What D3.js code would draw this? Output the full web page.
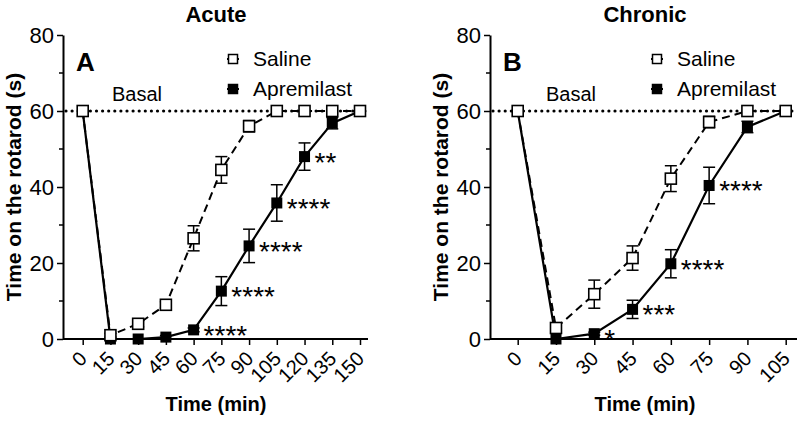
<!DOCTYPE html>
<html>
<head>
<meta charset="utf-8">
<script src="https://cdn.jsdelivr.net/npm/d3@7/dist/d3.min.js"></script>
<style>
  body { margin: 0; background: #fff; }
  svg { font-family: Arial, "Liberation Sans", sans-serif; }
</style>
</head>
<body>
<svg id="chart" width="800" height="422"></svg>
<script>
// Acute
const acuteTimes = ["0", "15", "30", "45", "60", "75", "90", "105", "120", "135", "150"];
const acuteSaline = [60, 1, 4, 9, 26.5, 44.5, 56, 60, 60, 60, 60];
const acuteSalineErr = [0, 0.5, 0.8, 0.8, 3.3, 3.5, 1.5, 0, 0, 0, 0];
const acuteApremilast = [60, 0, 0, 0.5, 2.4, 12.6, 24.5, 35.8, 48, 56.8, 60];
const acuteApremilastErr = [0, 0, 0, 0.4, 0.5, 3.8, 4.4, 4.8, 3.6, 1.5, 0];
const acuteStars = ["", "", "", "", "****", "****", "****", "****", "**", "", ""];

// Chronic
const chronicTimes = ["0", "15", "30", "45", "60", "75", "90", "105"];
const chronicSaline = [60, 2.9, 11.8, 21.3, 42.2, 57.1, 60, 60];
const chronicSalineErr = [0, 1, 3.7, 3.2, 3.4, 1.5, 0, 0];
const chronicApremilast = [60, 0, 1.4, 7.8, 19.8, 40.4, 55.8, 60];
const chronicApremilastErr = [0, 0, 0.4, 2.4, 3.7, 4.8, 1.5, 0];
const chronicStars = ["", "", "*", "***", "****", "****", "", ""];

const yTicks = [0, 20, 40, 60, 80];
const yMinorTicks = [10, 30, 50, 70];
const basal = 60;

const svg = d3.select("#chart");

function drawPanel(opt) {
  const g = svg.append("g");
  const y = d3.scaleLinear().domain([0, 80]).range([339, 35]);
  const x = d3.scalePoint().domain(opt.times).range([opt.firstX, opt.lastX]);

  // title + panel letter
  g.append("text").attr("x", opt.titleX).attr("y", 22)
    .attr("text-anchor", "middle").attr("font-weight", "bold").attr("font-size", 22)
    .text(opt.title);
  g.append("text").attr("x", opt.axisX + 13).attr("y", 71)
    .attr("font-weight", "bold").attr("font-size", 26)
    .text(opt.letter);

  // y axis
  const yAxis = g.append("g").attr("transform", `translate(${opt.axisX},0)`)
    .call(d3.axisLeft(y).tickValues(yTicks).tickSize(6).tickPadding(3).tickSizeOuter(0));
  yAxis.select(".domain").attr("stroke-width", 2);
  yAxis.selectAll(".tick line").attr("stroke-width", 1.5);
  yAxis.selectAll(".tick text").attr("font-size", 22).attr("font-family", null);
  yAxis.selectAll(".minor").data(yMinorTicks).join("line")
    .attr("x1", -4).attr("x2", 0)
    .attr("y1", d => y(d)).attr("y2", d => y(d))
    .attr("stroke", "#000").attr("stroke-width", 1.5);

  // x axis
  const xAxis = g.append("g").attr("transform", `translate(0,${y(0)})`)
    .call(d3.axisBottom(x).tickSize(6).tickSizeOuter(0));
  xAxis.select(".domain").remove();
  xAxis.append("line").attr("x1", opt.axisX).attr("x2", opt.axisEnd)
    .attr("stroke", "#000").attr("stroke-width", 2);
  xAxis.selectAll(".tick line").attr("stroke-width", 1.5);
  xAxis.selectAll(".tick text")
    .attr("font-size", 20).attr("font-family", null)
    .attr("text-anchor", "end")
    .attr("y", 0).attr("dy", "0.35em")
    .attr("transform", "translate(0,16) rotate(-45)");

  // axis titles
  g.append("text")
    .attr("transform", `translate(${opt.axisX - 42},${y(40)}) rotate(-90)`)
    .attr("text-anchor", "middle").attr("font-weight", "bold").attr("font-size", 21)
    .text("Time on the rotarod (s)");
  g.append("text").attr("x", opt.titleX).attr("y", 411)
    .attr("text-anchor", "middle").attr("font-weight", "bold").attr("font-size", 20)
    .text("Time (min)");

  // basal line
  g.append("line").attr("x1", opt.axisX + 3).attr("x2", opt.axisEnd)
    .attr("y1", y(basal)).attr("y2", y(basal))
    .attr("stroke", "#000").attr("stroke-width", 3.2)
    .attr("stroke-linecap", "round").attr("stroke-dasharray", "0 6.1");
  g.append("text").attr("x", opt.basalX).attr("y", 101)
    .attr("font-size", 20).text("Basal");

  const sal = opt.times.map((t, i) => ({ t, v: opt.saline[i], e: opt.salineErr[i] }));
  const apr = opt.times.map((t, i) => ({ t, v: opt.apremilast[i], e: opt.apremilastErr[i], s: opt.stars[i] }));

  const line = d3.line().x(d => x(d.t)).y(d => y(d.v));
  g.append("path").datum(sal).attr("d", line)
    .attr("fill", "none").attr("stroke", "#000").attr("stroke-width", 2)
    .attr("stroke-dasharray", "8 5");
  g.append("path").datum(apr).attr("d", line)
    .attr("fill", "none").attr("stroke", "#000").attr("stroke-width", 2.2);

  // error bars
  const cap = 6;
  [sal, apr].forEach(series => {
    const eb = g.append("g").selectAll("g").data(series.filter(d => d.e > 0)).join("g")
      .attr("stroke", "#000").attr("stroke-width", 1.5);
    eb.append("line").attr("x1", d => x(d.t)).attr("x2", d => x(d.t))
      .attr("y1", d => y(d.v - d.e)).attr("y2", d => y(d.v + d.e));
    eb.append("line").attr("x1", d => x(d.t) - cap).attr("x2", d => x(d.t) + cap)
      .attr("y1", d => y(d.v + d.e)).attr("y2", d => y(d.v + d.e));
    eb.append("line").attr("x1", d => x(d.t) - cap).attr("x2", d => x(d.t) + cap)
      .attr("y1", d => y(d.v - d.e)).attr("y2", d => y(d.v - d.e));
  });

  const sq = 11;
  g.append("g").selectAll("rect").data(apr).join("rect")
    .attr("x", d => x(d.t) - sq / 2).attr("y", d => y(d.v) - sq / 2)
    .attr("width", sq).attr("height", sq).attr("fill", "#000");
  g.append("g").selectAll("rect").data(sal).join("rect")
    .attr("x", d => x(d.t) - sq / 2).attr("y", d => y(d.v) - sq / 2)
    .attr("width", sq).attr("height", sq)
    .attr("fill", "#fff").attr("stroke", "#000").attr("stroke-width", 1.6);

  // significance stars
  g.append("g").selectAll("text").data(apr.filter(d => d.s)).join("text")
    .attr("x", d => x(d.t) + 10).attr("y", d => y(d.v) + 15)
    .attr("font-size", 28).text(d => d.s);

  // legend
  const leg = g.append("g").attr("transform", `translate(${opt.legendX},0)`);
  const items = [{ name: "Saline", fill: "#fff", y: 59 }, { name: "Apremilast", fill: "#000", y: 89 }];
  items.forEach(it => {
    leg.append("line").attr("x1", -6).attr("x2", 6).attr("y1", it.y).attr("y2", it.y)
      .attr("stroke", "#000").attr("stroke-width", 2);
    leg.append("rect").attr("x", -4.5).attr("y", it.y - 4.5).attr("width", 9).attr("height", 9)
      .attr("fill", it.fill).attr("stroke", "#000").attr("stroke-width", 1.5);
    leg.append("text").attr("x", 20).attr("y", it.y + 7).attr("font-size", 21).text(it.name);
  });
}

drawPanel({
  title: "Acute", letter: "A", titleX: 216,
  axisX: 63, axisEnd: 368, firstX: 82.7, lastX: 360,
  basalX: 112, legendX: 233,
  times: acuteTimes, saline: acuteSaline, salineErr: acuteSalineErr,
  apremilast: acuteApremilast, apremilastErr: acuteApremilastErr, stars: acuteStars
});

drawPanel({
  title: "Chronic", letter: "B", titleX: 645,
  axisX: 490, axisEnd: 797, firstX: 517.7, lastX: 785.7,
  basalX: 546, legendX: 657,
  times: chronicTimes, saline: chronicSaline, salineErr: chronicSalineErr,
  apremilast: chronicApremilast, apremilastErr: chronicApremilastErr, stars: chronicStars
});
</script>
</body>
</html>
